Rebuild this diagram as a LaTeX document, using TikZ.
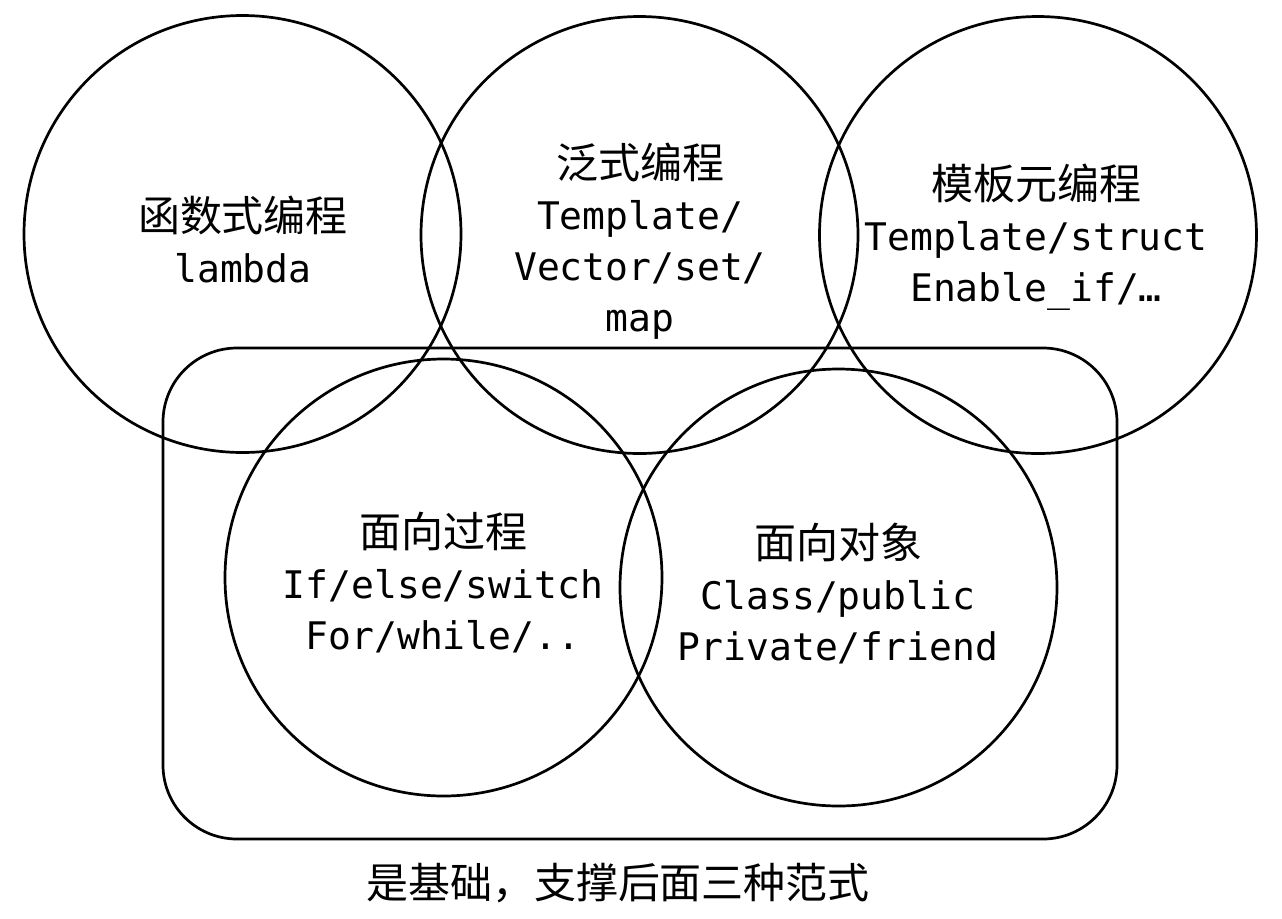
\documentclass[tikz,border=0pt]{standalone}
\usepackage{fontspec}
\setmonofont{DejaVu Sans Mono}
\newfontfamily\cjk{Noto Sans CJK SC}
\newcommand\zh[1]{{\cjk\fontsize{21}{25.5}\selectfont #1}}

\begin{document}
\begin{tikzpicture}[x=0.5pt, y=-0.5pt, line width=1.35pt,
    blocktext/.style={align=center, font=\fontsize{19}{25.5}\selectfont\ttfamily}]
                \useasboundingbox (0,0) rectangle (1282,918);

                % five paradigms
                \draw (242.5,234) circle (109.25pt);
                \draw (639.5,235) circle (109.25pt);
                \draw (1038,235) circle (109.25pt);
                \draw (443.5,577.5) circle (109.25pt);
                \draw (838.5,587.5) circle (109.25pt);

                % base frame
                \draw[rounded corners=37pt] (163,348) rectangle (1117,839);

                \node[blocktext] (fp) at (243,239) {\zh{函数式编程}\\lambda};
                \node[blocktext] (gp) at (640,241) {\zh{泛式编程}\\Template/\\Vector/set/\\map};
                \node[blocktext] (tmp) at (1036,237) {\zh{模板元编程}\\Template/struct\\Enable\_if/…};
                \node[blocktext] (pp) at (443,583) {\zh{面向过程}\\If/else/switch\\For/while/..};
                \node[blocktext] (oop) at (838,594) {\zh{面向对象}\\Class/public\\Private/friend};

                \node (base) at (618,883) {\zh{是基础，支撑后面三种范式}};
\end{tikzpicture}
\end{document}
